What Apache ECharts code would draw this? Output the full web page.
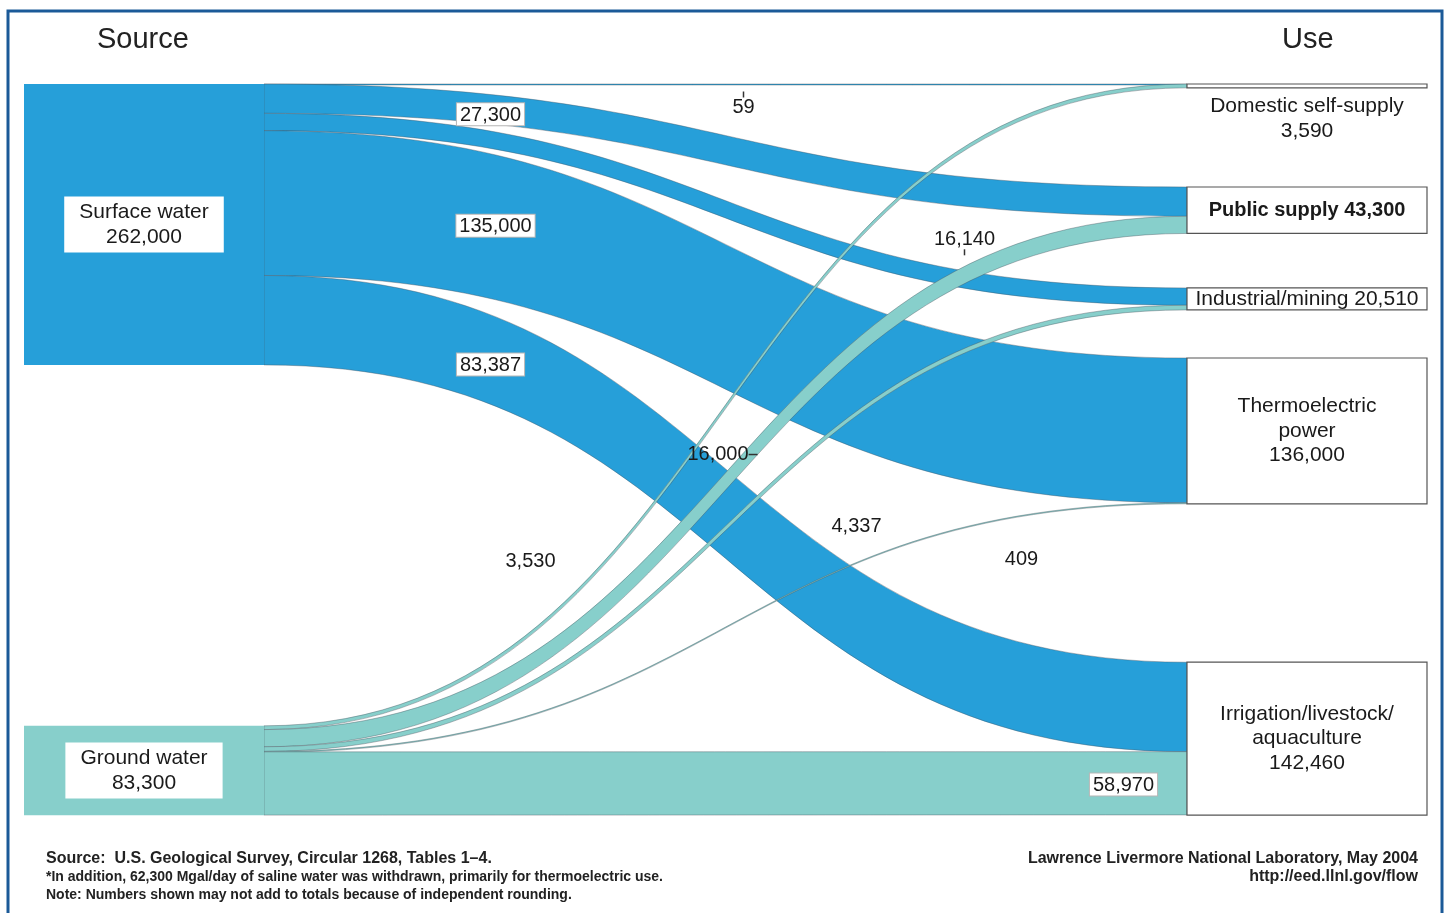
<!DOCTYPE html>
<html>
<head>
<meta charset="utf-8">
<script src="https://cdn.jsdelivr.net/npm/echarts@6/dist/echarts.min.js"></script>
<style>
  html, body { margin: 0; padding: 0; background: #ffffff; }
  #chart { width: 1448px; height: 913px; }
</style>
</head>
<body>
<div id="chart"></div>
<script>
// ---- data ----
const sourceNames = ['Surface water', 'Ground water'];
const sourceTotals = [262000, 83300];
const useNames = ['Domestic self-supply', 'Public supply', 'Industrial/mining', 'Thermoelectric power', 'Irrigation/livestock/aquaculture'];
const useTotals = [3590, 43300, 20510, 136000, 142460];
const surfaceFlows = [59, 27300, 16140, 135000, 83387];
const groundFlows = [3530, 16000, 4337, 409, 58970];

// ---- label text templates ----
const sourceLabelText = ['Surface water\n{v}', 'Ground water\n{v}'];
const useLabelText = ['Domestic self-supply\n{v}', 'Public supply {v}', 'Industrial/mining {v}', 'Thermoelectric\npower\n{v}', 'Irrigation/livestock/\naquaculture\n{v}'];

// ---- styles / layout hints ----
const BLUE = '#269fd9';
const TEAL = '#87cfcb';
const FONT = '"Liberation Sans", Arial, Helvetica, sans-serif';
const sourceColors = [BLUE, TEAL];
const sourceLocalY = [0, 0.878];
const useLocalY = [0, 0.1409, 0.279, 0.3748, 0.791];
const useBold = [false, true, false, false, false];
const useLabelPos = ['bottom', 'inside', 'inside', 'inside', 'inside'];
// per-link label styling (surface links then ground links)
const linkLabelOffset = [[18, 20], [-235, -36], [239, 33], [-230, -91], [-235, -149],
                         [-195, 155], [-3, -27], [131, -2], [296, -68], [398, 1]];
const linkLabelBoxed = [false, true, false, true, true, false, false, false, false, true];
const linkLabelMark = ['tickAbove', null, 'tickBelow', null, null, null, 'dash', null, null, null];

const fmt = v => v.toLocaleString('en-US');

const nodes = [];
sourceNames.forEach((n, i) => {
  nodes.push({
    name: n,
    value: sourceTotals[i],
    localY: sourceLocalY[i],
    itemStyle: { color: sourceColors[i], borderWidth: 0 },
    label: {
      position: 'inside',
      formatter: sourceLabelText[i].replace('{v}', fmt(sourceTotals[i])),
      backgroundColor: '#ffffff',
      padding: [4, 15, 2, 15],
      fontSize: 21,
      lineHeight: 25,
      color: '#1a1a1a',
      fontFamily: FONT
    }
  });
});
useNames.forEach((n, i) => {
  nodes.push({
    name: n,
    value: useTotals[i],
    localY: useLocalY[i],
    itemStyle: { color: '#ffffff', borderColor: '#555555', borderWidth: 1.2 },
    label: {
      position: useLabelPos[i],
      distance: 6,
      formatter: useLabelText[i].replace('{v}', fmt(useTotals[i])),
      fontSize: useBold[i] ? 20 : 21,
      fontWeight: useBold[i] ? 'bold' : 'normal',
      lineHeight: 24.5,
      color: '#1a1a1a',
      align: 'center',
      fontFamily: FONT
    }
  });
});

const links = [];
const flowSets = [surfaceFlows, groundFlows];
flowSets.forEach((flows, si) => {
  flows.forEach((v, ui) => {
    const k = links.length;
    const mark = linkLabelMark[k];
    const lbl = fmt(v);
    let text;
    if (mark === 'tickAbove') text = '{t|}\n{v|' + lbl + '}';
    else if (mark === 'tickBelow') text = '{v|' + lbl + '}\n{t|}';
    else if (mark === 'dash') text = '{v|' + lbl + '}{d|}';
    else text = '{v|' + lbl + '}';
    const boxed = linkLabelBoxed[k];
    links.push({
      source: sourceNames[si],
      target: useNames[ui],
      value: v,
      lineStyle: { color: sourceColors[si] },
      edgeLabel: {
        show: true,
        offset: linkLabelOffset[k],
        formatter: text,
        backgroundColor: boxed ? '#ffffff' : 'transparent',
        borderColor: boxed ? '#b5b5b5' : 'transparent',
        borderWidth: boxed ? 1 : 0,
        padding: boxed ? [2, 3, 0, 3] : 0
      }
    });
  });
});

const chart = echarts.init(document.getElementById('chart'), null, { renderer: 'canvas' });
chart.setOption({
  backgroundColor: '#ffffff',
  animation: false,
  title: [
    { text: 'Source', left: 92, top: 20, textStyle: { fontSize: 29, fontWeight: 'normal', color: '#222', fontFamily: FONT } },
    { text: 'Use', left: 1277, top: 20, textStyle: { fontSize: 29, fontWeight: 'normal', color: '#222', fontFamily: FONT } },
    { text: 'Source:  U.S. Geological Survey, Circular 1268, Tables 1\u20134.', left: 41, top: 846, textStyle: { fontSize: 16, fontWeight: 'bold', color: '#222', fontFamily: FONT } },
    { text: '*In addition, 62,300 Mgal/day of saline water was withdrawn, primarily for thermoelectric use.', left: 41, top: 865, textStyle: { fontSize: 14, fontWeight: 'bold', color: '#222', fontFamily: FONT } },
    { text: 'Note: Numbers shown may not add to totals because of independent rounding.', left: 41, top: 883, textStyle: { fontSize: 14, fontWeight: 'bold', color: '#222', fontFamily: FONT } },
    { text: 'Lawrence Livermore National Laboratory, May 2004', right: 25, top: 846, textStyle: { fontSize: 16, fontWeight: 'bold', color: '#222', fontFamily: FONT } },
    { text: 'http://eed.llnl.gov/flow', right: 25, top: 864, textStyle: { fontSize: 16, fontWeight: 'bold', color: '#222', fontFamily: FONT } }
  ],
  graphic: [
    { type: 'rect', shape: { x: 8, y: 11, width: 1434, height: 960 }, style: { fill: 'none', stroke: '#1b5a98', lineWidth: 3 }, silent: true }
  ],
  series: [{
    type: 'sankey',
    left: 24, top: 84, right: 21, bottom: 98,
    nodeWidth: 240,
    nodeGap: 90,
    layoutIterations: 0,
    draggable: false,
    emphasis: { disabled: true },
    data: nodes,
    links: links,
    lineStyle: { opacity: 1, curveness: 0.5, borderColor: 'rgba(70,80,90,0.55)', borderWidth: 0.7 },
    edgeLabel: {
      show: true,
      fontSize: 20,
      color: '#1a1a1a',
      fontFamily: FONT,
      rich: {
        v: { fontSize: 20, color: '#1a1a1a', fontFamily: FONT, align: 'center' },
        t: { width: 1.5, height: 6, backgroundColor: '#333', align: 'center' },
        d: { width: 9, height: 1.5, backgroundColor: '#333', align: 'center' }
      }
    }
  }]
});
</script>
</body>
</html>
